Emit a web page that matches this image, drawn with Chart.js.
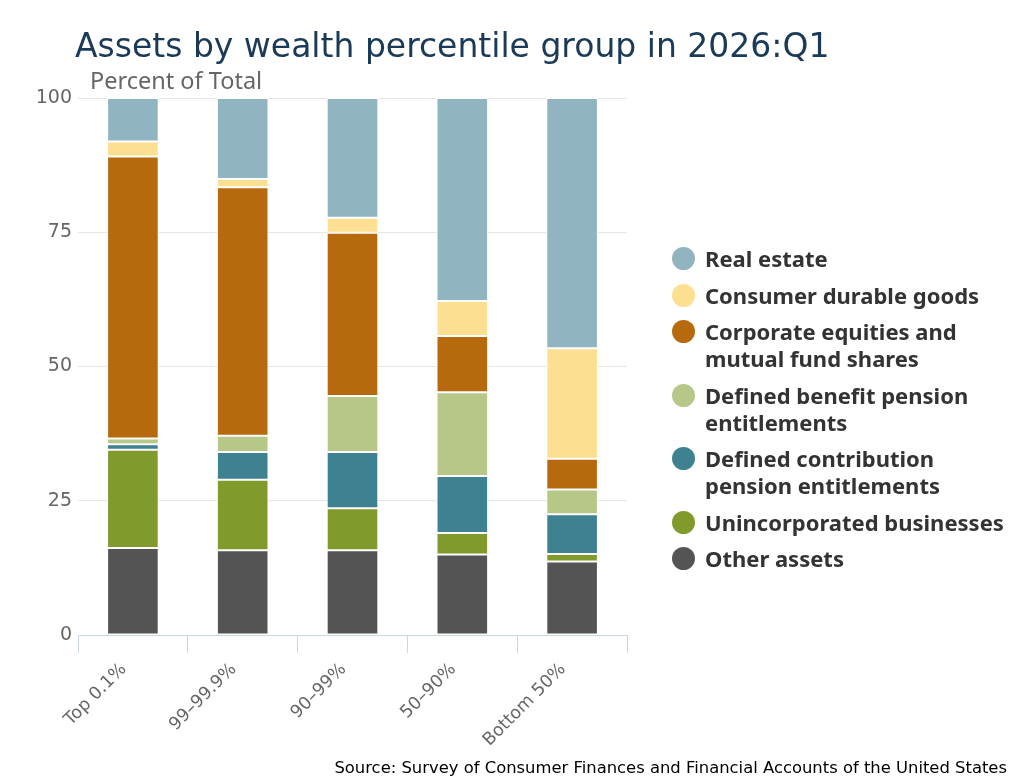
<!DOCTYPE html>
<html>
<head>
<meta charset="utf-8">
<script src="https://cdn.jsdelivr.net/npm/chart.js@4.4.1/dist/chart.umd.min.js"></script>
<style>
  body { margin: 0; background: #fff; font-family: "Noto Sans", sans-serif; }
  #wrap { position: relative; width: 1028px; height: 783px; overflow: hidden; }
  #chart { position: absolute; left: 0; top: 0; }
  #title { position: absolute; left: 75px; top: 26px; font-family: "DejaVu Sans", sans-serif; font-size: 33px; line-height: 40px; color: #1b3a57; white-space: nowrap; }
  #ytitle { position: absolute; left: 90px; top: 66px; font-size: 23.5px; line-height: 28px; color: #666; white-space: nowrap; }
  #source { position: absolute; right: 21px; top: 758px; font-family: "DejaVu Sans", sans-serif; font-size: 16.4px; line-height: 20px; color: #000; white-space: nowrap; }
  #legend { position: absolute; left: 672px; top: 245px; }
  .item { display: flex; align-items: flex-start; margin-bottom: 9.5px; }
  .dot { width: 23px; height: 23px; border-radius: 50%; margin-top: 2px; margin-right: 10px; flex: none; }
  .txt { font-size: 22px; line-height: 27px; font-weight: bold; color: #333; white-space: nowrap; }
</style>
</head>
<body>
<div id="wrap">
  <canvas id="chart" width="1028" height="783"></canvas>
  <div id="title">Assets by wealth percentile group in 2026:Q1</div>
  <div id="ytitle">Percent of Total</div>
  <div id="legend"></div>
  <div id="source">Source: Survey of Consumer Finances and Financial Accounts of the United States</div>
</div>
<script>
// wealth percentile groups
const groups = ["Top 0.1%", "99\u201399.9%", "90\u201399%", "50\u201390%", "Bottom 50%"];

// percent of total assets (bottom of stack first)
const otherAssets    = [16.2, 15.8, 15.8, 15.0, 13.7];
const unincorporated = [18.3, 13.1,  7.8,  4.0,  1.4];
const dcPension      = [ 1.0,  5.2, 10.5, 10.6,  7.4];
const dbPension      = [ 1.1,  3.0, 10.4, 15.6,  4.6];
const equities       = [52.5, 46.3, 30.4, 10.5,  5.7];
const durables       = [ 2.8,  1.5,  2.8,  6.5, 20.6];
const realEstate     = [ 8.1, 15.1, 22.3, 37.8, 46.6];

const yTicks = [0, 25, 50, 75, 100];

// series names (\n = line break in legend) and colours, same order as stack
const seriesNames = [
    "Other assets",
    "Unincorporated businesses",
    "Defined contribution\npension entitlements",
    "Defined benefit pension\nentitlements",
    "Corporate equities and\nmutual fund shares",
    "Consumer durable goods",
    "Real estate"
];
const seriesColors = ["#545454", "#809b2b", "#3e8191", "#b7c788", "#b66a0d", "#fddf91", "#91b5c0"];
const seriesData = [otherAssets, unincorporated, dcPension, dbPension, equities, durables, realEstate];

const datasets = seriesNames.map(function (name, i) {
    return {
        label: name.replace("\n", " "),
        data: seriesData[i],
        backgroundColor: seriesColors[i],
        borderColor: "#ffffff",
        borderWidth: 1,
        borderSkipped: false,
        categoryPercentage: 1.0,
        barPercentage: 0.47
    };
});

// legend is listed top of stack first
const legendEl = document.getElementById("legend");
for (let i = seriesNames.length - 1; i >= 0; i--) {
    const item = document.createElement("div");
    item.className = "item";
    const dot = document.createElement("div");
    dot.className = "dot";
    dot.style.background = seriesColors[i];
    const txt = document.createElement("div");
    txt.className = "txt";
    txt.innerHTML = seriesNames[i].split("\n").join("<br>");
    item.appendChild(dot);
    item.appendChild(txt);
    legendEl.appendChild(item);
}

new Chart(document.getElementById("chart").getContext("2d"), {
    type: "bar",
    data: { labels: groups, datasets: datasets },
    options: {
        responsive: false,
        animation: false,
        layout: { padding: { left: 38, right: 401, top: 98, bottom: 28 } },
        plugins: { legend: { display: false }, tooltip: { enabled: false } },
        scales: {
            x: {
                stacked: true,
                grid: { offset: true, drawOnChartArea: false, color: "#ccd6eb", tickLength: 18 },
                border: { color: "#ccd6eb", width: 1 },
                ticks: {
                    minRotation: 45, maxRotation: 45, padding: 6, labelOffset: -9,
                    color: "#666", font: { family: "DejaVu Sans", size: 17.5 }
                },
                afterFit: function (s) { s.height = 120; }
            },
            y: {
                stacked: true,
                min: 0, max: 100,
                afterBuildTicks: function (s) { s.ticks = yTicks.map(v => ({ value: v })); },
                grid: { color: "#e6e6e6", drawTicks: false },
                border: { display: false },
                ticks: { padding: 6, color: "#666", font: { family: "DejaVu Sans", size: 19 } },
                afterFit: function (s) { s.width = 40; }
            }
        }
    }
});
</script>
</body>
</html>
